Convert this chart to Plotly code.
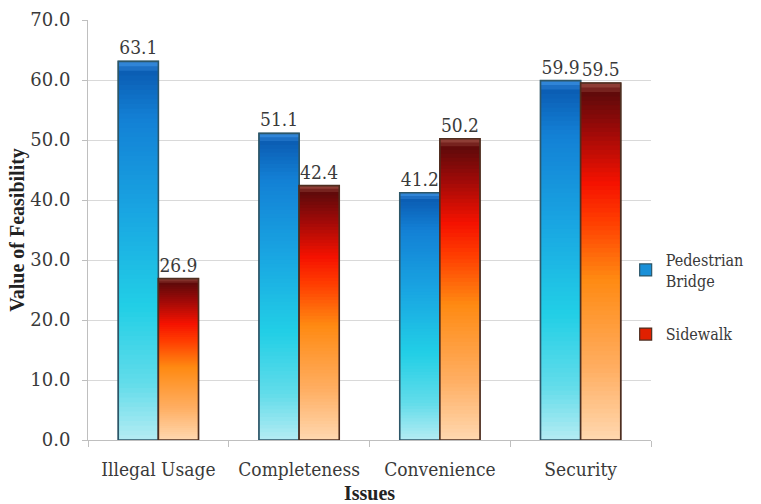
import numpy as np
import plotly.graph_objects as go

categories = ["Illegal Usage", "Completeness", "Convenience", "Security"]
pedestrian_bridge = [63.1, 51.1, 41.2, 59.9]
sidewalk = [26.9, 42.4, 50.2, 59.5]
series_names = ["Pedestrian<br>Bridge", "Sidewalk"]
y_ticks = [0, 10, 20, 30, 40, 50, 60, 70]

BOLD = "Liberation Serif"
REG = "DejaVu Serif Condensed"
TXT = "#3a3a3a"
N = 80

blue_stops = [(0.0, "#b4ecf3"), (0.15, "#62dcea"), (0.35, "#22cfe6"),
              (0.6, "#19a6e2"), (0.85, "#1380d5"), (0.97, "#0b5eb4"), (1.0, "#3a8fe0")]
red_stops = [(0.0, "#ffd8b0"), (0.2, "#ffae62"), (0.45, "#ff8a12"),
             (0.62, "#ff3a00"), (0.72, "#f51200"), (0.86, "#a00a08"), (0.97, "#600a0a"), (1.0, "#9a4a40")]


def hex2rgb(h):
    h = h.lstrip("#")
    return np.array([int(h[i:i + 2], 16) for i in (0, 2, 4)], dtype=float)


def interp(stops, f):
    for (f0, c0), (f1, c1) in zip(stops[:-1], stops[1:]):
        if f0 <= f <= f1:
            t = (f - f0) / (f1 - f0) if f1 > f0 else 0
            c = hex2rgb(c0) * (1 - t) + hex2rgb(c1) * t
            return "rgb(%d,%d,%d)" % tuple(c.round())
    return stops[-1][1]


series = [
    (pedestrian_bridge, blue_stops, -0.285, "#2c5668", "#1a90d8"),
    (sidewalk, red_stops, 0.0, "#4e2e20", "#e02000"),
]
W = 0.285

fig = go.Figure()

for i, (vals, stops, off, lc, legc) in enumerate(series):
    # legend carrier (drawn underneath)
    fig.add_trace(go.Bar(
        x=categories, y=vals, offset=off, width=W, name=series_names[i],
        marker=dict(color=legc, line=dict(color=lc, width=1.2)),
        legendgroup=str(i), showlegend=True, hoverinfo="skip",
    ))
    # vertical gradient: nested bars, each shorter one painted over the taller
    arr = np.array(vals, dtype=float)
    for k in range(N - 1, -1, -1):
        f = (k + 0.5) / N
        fig.add_trace(go.Bar(
            x=categories, y=arr * (k + 1) / N, offset=off, width=W,
            marker=dict(color=interp(stops, f), line=dict(width=0)),
            showlegend=False, hoverinfo="skip",
        ))
    # outline + value labels
    fig.add_trace(go.Bar(
        x=categories, y=vals, offset=off, width=W,
        marker=dict(color="rgba(0,0,0,0)", line=dict(color=lc, width=1.6)),
        text=["%.1f" % v for v in vals], textposition="outside",
        textfont=dict(family=REG, size=19, color=TXT),
        cliponaxis=False, showlegend=False,
    ))

fig.update_layout(
    width=761, height=504,
    barmode="overlay",
    plot_bgcolor="white", paper_bgcolor="white",
    margin=dict(l=88, r=106, t=20, b=64),
    font=dict(family=REG, size=19, color=TXT),
    legend=dict(x=0.955, xanchor="left", y=0.47, yanchor="top",
                font=dict(family=REG, size=16, color=TXT),
                tracegroupgap=30, itemwidth=30, bgcolor="rgba(0,0,0,0)"),
    xaxis=dict(type="category", showline=True, linecolor="#bfbfbf", linewidth=1,
               ticks="outside", tickson="boundaries", ticklen=6, tickcolor="#bfbfbf",
               ticklabelstandoff=12, automargin=False,
               tickfont=dict(family=REG, size=19, color=TXT),
               title=dict(text="<b>Issues</b>", font=dict(family=BOLD, size=20, color="#222"), standoff=8)),
    yaxis=dict(range=[0, 70], tickvals=y_ticks, tickformat=".1f", showline=True,
               linecolor="#bfbfbf", ticks="outside", ticklen=5, tickcolor="#bfbfbf",
               gridcolor="#d9d9d9", zeroline=False, ticklabelstandoff=8, automargin=False,
               tickfont=dict(family="DejaVu Serif", size=18, color=TXT),
               title=dict(text="<b>Value of Feasibility</b>", font=dict(family=BOLD, size=20, color="#222"), standoff=0)),
)

fig.write_html("out.html")
